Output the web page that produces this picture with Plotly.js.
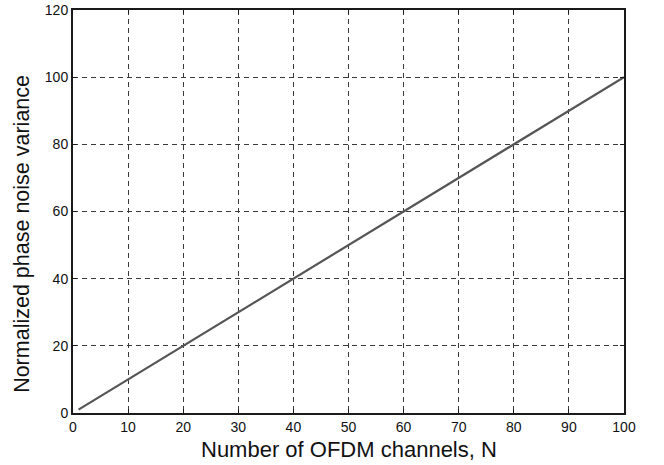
<!DOCTYPE html>
<html><head><meta charset="utf-8">
<script src="https://cdn.plot.ly/plotly-3.0.1.min.js"></script>
<style>body{margin:0;background:#fff}#c{width:664px;height:465px}</style>
</head><body><div id="c"></div>
<script>
var channels = [1, 10, 20, 30, 40, 50, 60, 70, 80, 90, 100];
var variance = [1, 10, 20, 30, 40, 50, 60, 70, 80, 90, 100];
var xTicks = [0, 10, 20, 30, 40, 50, 60, 70, 80, 90, 100];
var yTicks = [0, 20, 40, 60, 80, 100, 120];
var xTitle = 'Number of OFDM channels, N';
var yTitle = 'Normalized phase noise variance';

var font = 'Liberation Sans, Arial, Helvetica, sans-serif';
var axisCommon = {
  showline: true, linecolor: '#1a1a1a', linewidth: 2, mirror: 'allticks',
  ticks: 'inside', ticklen: 4, tickwidth: 1, tickcolor: '#1a1a1a',
  showgrid: true, gridcolor: '#3a3a3a', gridwidth: 1, griddash: '5px,4px',
  zeroline: false, tickfont: {family: font, size: 14, color: '#111'},
  automargin: false
};
Plotly.newPlot('c', [{
  x: channels, y: variance, mode: 'lines',
  line: {color: '#555', width: 2.2}, hoverinfo: 'skip'
}], {
  width: 664, height: 465,
  margin: {l: 73, r: 40, t: 10, b: 52},
  paper_bgcolor: '#fff', plot_bgcolor: '#fff', showlegend: false,
  xaxis: Object.assign({}, axisCommon, {
    range: [0, 100], tickvals: xTicks, ticktext: xTicks.map(String)
  }),
  yaxis: Object.assign({}, axisCommon, {
    range: [0, 120], tickvals: yTicks, ticktext: yTicks.map(String)
  }),
  annotations: [
    {text: xTitle, xref: 'paper', yref: 'paper', x: 0.5, y: -0.0918,
     xanchor: 'center', yanchor: 'middle', showarrow: false,
     font: {family: font, size: 22, color: '#111'}},
    {text: yTitle, xref: 'paper', yref: 'paper', x: -0.094, y: 0.445,
     xanchor: 'center', yanchor: 'middle', showarrow: false, textangle: -90,
     font: {family: font, size: 21.5, color: '#111'}}
  ]
}, {staticPlot: true});
</script></body></html>
